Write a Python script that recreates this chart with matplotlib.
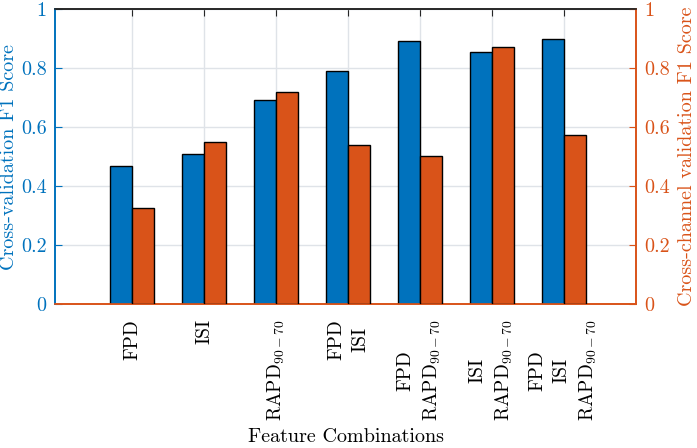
import numpy as np
import matplotlib
matplotlib.use('Agg')
import matplotlib.pyplot as plt

# values
labels = ['FPD', 'ISI', 'RAPD$_{90-70}$', 'FPD\nISI', 'FPD\nRAPD$_{90-70}$',
          'ISI\nRAPD$_{90-70}$', 'FPD\nISI\nRAPD$_{90-70}$']
cv_f1 = [0.468, 0.509, 0.692, 0.789, 0.893, 0.854, 0.897]
cc_f1 = [0.327, 0.548, 0.718, 0.538, 0.503, 0.871, 0.572]
yticks = [0, 0.2, 0.4, 0.6, 0.8, 1]
ytick_labels = ['0', '0.2', '0.4', '0.6', '0.8', '1']

blue = '#0072BD'
orange = '#D95319'

plt.rcParams['font.family'] = ['cmr10', 'DejaVu Serif']
plt.rcParams['mathtext.fontset'] = 'cm'
plt.rcParams['axes.formatter.use_mathtext'] = True

fig = plt.figure(figsize=(6.97, 4.48), dpi=100)
ax = fig.add_axes([55 / 697, 1 - 304 / 448, (636 - 55) / 697, (304 - 9) / 448])
ax2 = ax.twinx()

x = np.arange(1, len(labels) + 1)
w = 0.3
ax.bar(x - w / 2, cv_f1, w, color=blue, edgecolor='black', linewidth=1.0, zorder=3)
ax2.bar(x + w / 2, cc_f1, w, color=orange, edgecolor='black', linewidth=1.0, zorder=3)

for a in (ax, ax2):
    a.set_ylim(0, 1)
    a.set_xlim(-0.07, 8.0)
    a.set_yticks(yticks)
    a.set_yticklabels(ytick_labels)

ax.set_axisbelow(True)
ax.grid(True, color='#dfe3e8', linewidth=1.0, zorder=0)

ax.set_xticks(x)
ax.set_xticklabels(labels, rotation=90, ha='center', va='top', multialignment='center',
                   fontsize=14, linespacing=1.45)
ax.tick_params(axis='x', direction='in', length=5, pad=11, top=True, color='#262626')
ax.tick_params(axis='y', direction='in', length=5, colors=blue, labelsize=14.5, pad=6)
ax2.tick_params(axis='y', direction='in', length=5, colors=orange, labelsize=14.5, pad=6)

ax.set_ylabel('Cross-validation F1 Score', color=blue, fontsize=14.5, labelpad=2)
ax2.set_ylabel('Cross-channel validation F1 Score', color=orange, fontsize=14.5, labelpad=6)
ax.set_xlabel('Feature Combinations', fontsize=14.5, labelpad=5)

for a in (ax, ax2):
    a.spines['left'].set_color(blue)
    a.spines['right'].set_color(orange)
    a.spines['bottom'].set_color(orange)
    a.spines['top'].set_color('#262626')
    for s in a.spines.values():
        s.set_linewidth(1.2)

fig.savefig('out.png', dpi=100)
